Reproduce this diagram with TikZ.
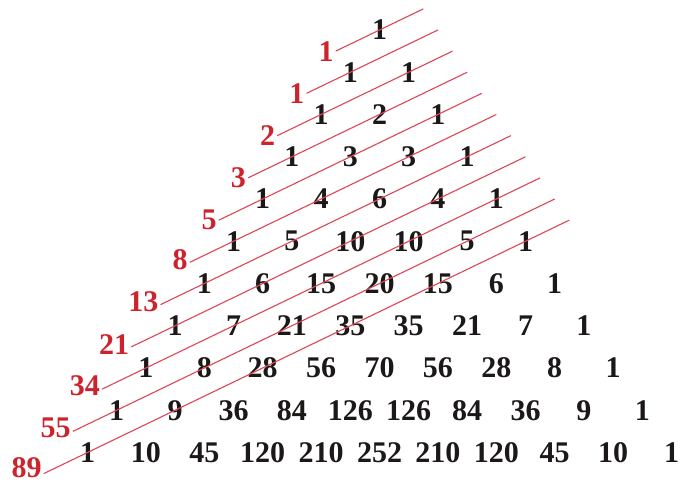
\documentclass[tikz,border=0pt]{standalone}
\usepackage{fontspec}
\setmainfont{Liberation Serif}
\definecolor{numblack}{RGB}{28,24,24}
\definecolor{fibred}{RGB}{205,35,45}
\definecolor{linered}{RGB}{220,70,85}
\begin{document}
\begin{tikzpicture}[x=1bp,y=-1bp,
  num/.style={inner sep=0pt, text=numblack, font=\fontsize{30bp}{34bp}\selectfont\bfseries},
  fib/.style={inner sep=0pt, text=fibred, anchor=east, font=\fontsize{30bp}{34bp}\selectfont\bfseries},
  diag/.style={draw=linered, line width=1.1bp}]
\useasboundingbox (0,0) rectangle (681,486);
\def\cx{379.5}\def\hs{29.2}\def\vs{42.25}\def\ty{30}
\newcommand\prow[2]{%
  \foreach \v [count=\k from 0] in {#2} {%
    \node[num] (n#1-\k) at ({\cx+(2*\k-#1)*\hs},{\ty+#1*\vs}) {\v};}}
\prow{0}{1}
\prow{1}{1,1}
\prow{2}{1,2,1}
\prow{3}{1,3,3,1}
\prow{4}{1,4,6,4,1}
\prow{5}{1,5,10,10,5,1}
\prow{6}{1,6,15,20,15,6,1}
\prow{7}{1,7,21,35,35,21,7,1}
\prow{8}{1,8,28,56,70,56,28,8,1}
\prow{9}{1,9,36,84,126,126,84,36,9,1}
\prow{10}{1,10,45,120,210,252,210,120,45,10,1}
\foreach \m/\f/\dy in {0/1/0,1/1/0,2/2/0,3/3/0,4/5/0,5/8/3,6/13/3,7/21/2,8/34/3,9/55/4,10/89/6} {
  \coordinate (s\m) at ({\cx-(\m+1.5)*\hs},{\ty+(\m+0.5)*\vs});
  \coordinate (e\m) at ({\cx+(0.5*\m+1.5)*\hs},{\ty+(0.5*\m-0.5)*\vs});
  \draw[diag] (s\m) -- (e\m);
  \node[fib] (f\m) at ([xshift=-2bp,yshift=\dy bp]s\m) {\f};
}
\end{tikzpicture}
\end{document}
